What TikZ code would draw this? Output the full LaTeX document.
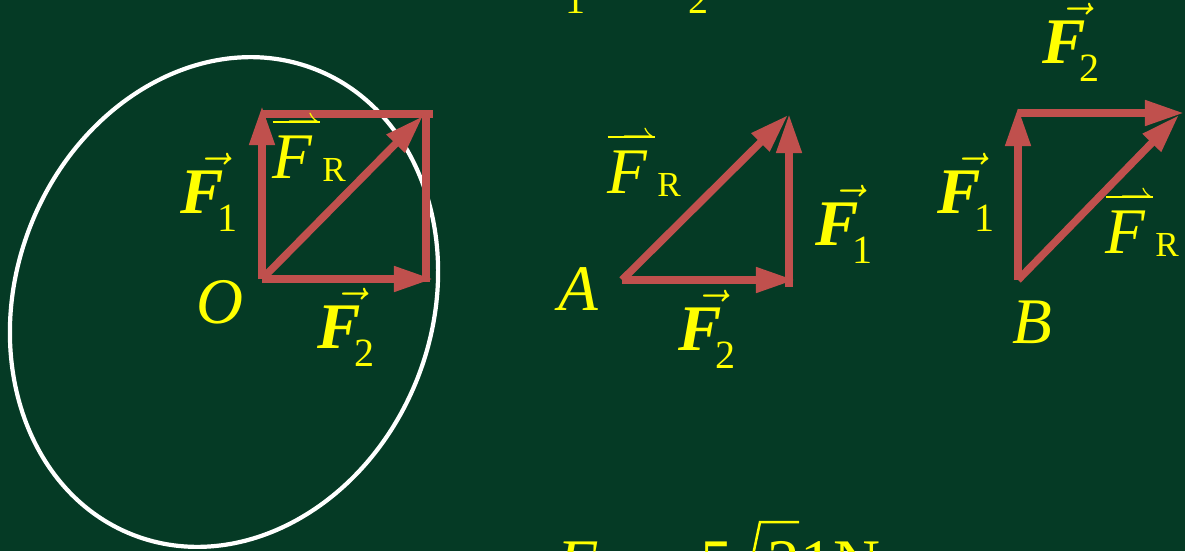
\documentclass[tikz,border=0pt]{standalone}
\usepackage{fontspec}
\setmainfont{Liberation Serif}
\usepackage{tikz}
\usetikzlibrary{arrows.meta}
\definecolor{board}{RGB}{5,58,37}
\definecolor{vecred}{RGB}{192,80,77}
\definecolor{chalk}{RGB}{255,255,0}
\newcommand{\bigsz}{\fontsize{18.5}{18.5}\selectfont}
\newcommand{\subsz}{\fontsize{11.4}{11.4}\selectfont}
\newcommand{\vecF}[1]{\makebox[0pt][l]{\kern0.12cm$\vec{\hbox{\phantom{\bfseries\itshape F}}}$}{\bfseries\itshape F}\kern-0.07cm\raisebox{-0.18cm}{\subsz #1}}
\newcommand{\resarrow}{\makebox[0pt][l]{\raisebox{0.48cm}[0pt][0pt]{\rule[0.073cm]{0.47cm}{0.016cm}\llap{$\scriptscriptstyle\rightharpoonup$}}}}
\newcommand{\resF}{\resarrow{\itshape F}\kern0.1cm\raisebox{-0.03cm}{\fontsize{10}{10}\selectfont R}}

\begin{document}
\begin{tikzpicture}[x=0.01cm, y=-0.01cm,
    >={Triangle[length=0.39cm, width=0.24cm]},
    force/.style={->, draw=vecred, line width=0.075cm},
    side/.style={draw=vecred, line width=0.075cm},
    lab/.style={text=chalk, font=\bigsz, anchor=base west, inner sep=0pt}]
    % 1. Nen bang
    \fill[board] (0,0) rectangle (1185,551);
    \useasboundingbox (0,0) rectangle (1185,551);
    \node[text=chalk, font=\subsz, anchor=base west, inner sep=0pt] (topone) at (565,13) {1};
    \node[text=chalk, font=\subsz, anchor=base west, inner sep=0pt] (toptwo) at (688,13) {2};

    % 2. Hinh binh hanh tai O
    \draw[white, line width=0.042cm, rotate around={-21.4:(224,302)}]
        (224,302) ellipse [x radius=208, y radius=250];
    \coordinate (O) at (262,279);
    \coordinate (O1) at (262,106);
    \coordinate (O2) at (433,279);
    \coordinate (OR) at (423,116);
    \coordinate (Oa) at (262,114);
    \coordinate (Ob) at (433,114);
    \coordinate (Oc) at (426,110);
    \coordinate (Od) at (426,282);
    \draw[side] (Oa) -- (Ob);
    \draw[side] (Oc) -- (Od);
    \draw[force] (O) -- (O1);
    \draw[force] (O) -- (O2);
    \draw[force] (O) -- (OR);
    \node[lab] (oF1) at (180,213) {\vecF{1}};
    \node[lab] (oFR) at (272,178) {\resF};
    \node[lab] (oO) at (196,323) {\itshape O};
    \node[lab] (oF2) at (317,348) {\vecF{2}};

    % 3. Tam giac tai A
    \coordinate (A) at (622,280);
    \coordinate (A2) at (795,280);
    \coordinate (A1s) at (789,287);
    \coordinate (A1) at (789,114);
    \coordinate (AR) at (788,115);
    \draw[force] (A) -- (A2);
    \draw[force] (A1s) -- (A1);
    \draw[force] (A) -- (AR);
    \node[lab] (aFR) at (607,193) {\resF};
    \node[lab] (aF1) at (815,245) {\vecF{1}};
    \node[lab] (aA) at (558,310) {\itshape A};
    \node[lab] (aF2) at (678,350) {\vecF{2}};

    % 4. Tam giac tai B
    \coordinate (B) at (1018,280);
    \coordinate (B1) at (1018,107);
    \coordinate (B2s) at (1018,113);
    \coordinate (B2) at (1184,113);
    \coordinate (BR) at (1179,115);
    \draw[force] (B) -- (B1);
    \draw[force] (B2s) -- (B2);
    \draw[force] (B) -- (BR);
    \node[lab] (bF2) at (1042,63) {\vecF{2}};
    \node[lab] (bF1) at (937,213) {\vecF{1}};
    \node[lab] (bFR) at (1105,253) {\resF};
    \node[lab] (bB) at (1012,343) {\itshape B};

    % 5. Ket qua
    \node[lab] (res) at (557,584) {{\itshape F}\kern0.1cm{\fontsize{10}{10}\selectfont R} = 5};
    \node[lab] (resnum) at (767,584) {21};
    \node[lab] (resunit) at (833,584) {N};
    \draw[chalk, line width=0.025cm] (752,560) -- (760,522) -- (799,522);
\end{tikzpicture}
\end{document}
